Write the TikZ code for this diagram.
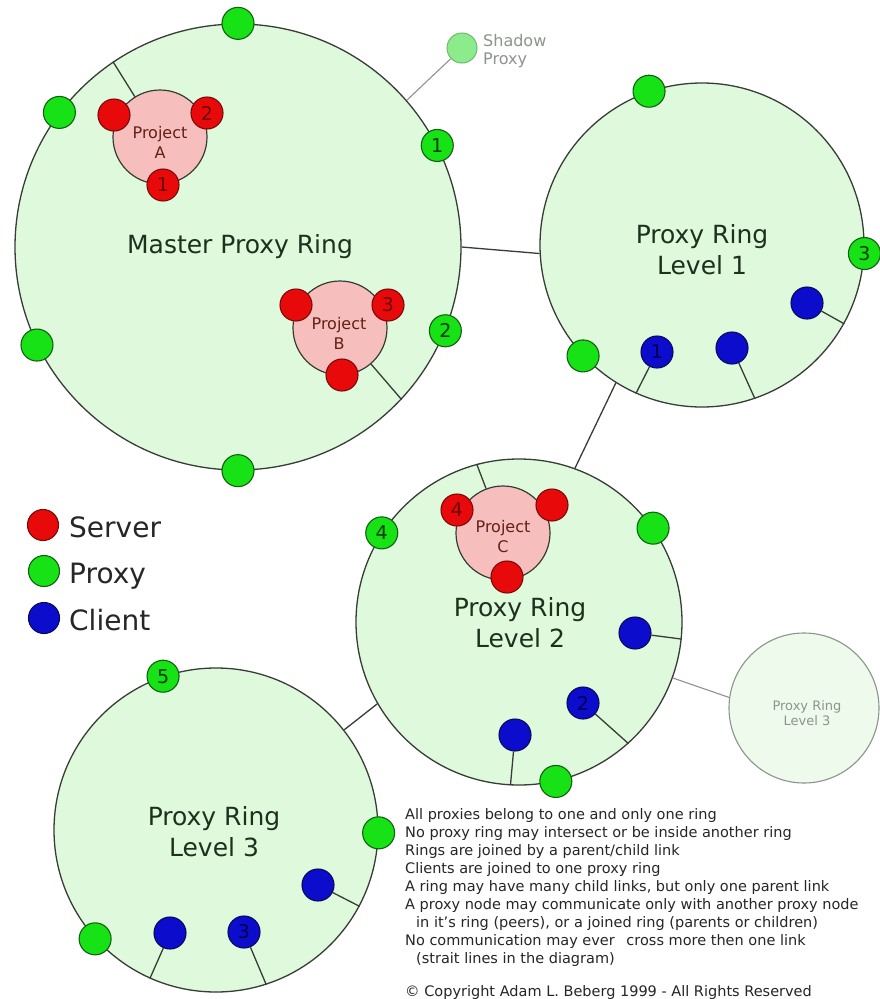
\documentclass[tikz,border=0pt]{standalone}
\usepackage{fontspec}
\setmainfont{DejaVu Sans}
\definecolor{ringfill}{RGB}{222,249,219}
\definecolor{ringline}{RGB}{55,60,55}
\definecolor{ghostfill}{RGB}{238,250,236}
\definecolor{ghostline}{RGB}{140,148,140}
\definecolor{proxyfill}{RGB}{22,226,22}
\definecolor{proxyline}{RGB}{20,95,20}
\definecolor{proxytext}{RGB}{0,60,0}
\definecolor{serverfill}{RGB}{232,10,10}
\definecolor{serverline}{RGB}{120,10,10}
\definecolor{servertext}{RGB}{110,0,0}
\definecolor{clientfill}{RGB}{12,12,205}
\definecolor{clientline}{RGB}{10,10,90}
\definecolor{clienttext}{RGB}{0,0,80}
\definecolor{projfill}{RGB}{247,190,190}
\definecolor{labeltext}{RGB}{30,48,30}
\definecolor{shadowfill}{RGB}{140,236,140}
\definecolor{shadowline}{RGB}{110,185,110}
\begin{document}
\begin{tikzpicture}[x=1pt,y=-1pt,
  ring/.style={circle, draw=ringline, fill=ringfill, line width=1.3pt, inner sep=0pt, minimum size=#1},
  ghostring/.style={circle, draw=ghostline, fill=ghostfill, line width=1.1pt, inner sep=0pt, minimum size=#1},
  proxy/.style={circle, draw=proxyline, fill=proxyfill, line width=1.1pt, inner sep=0pt, minimum size=32pt, text=proxytext, font=\fontsize{19}{19}\selectfont},
  server/.style={circle, draw=serverline, fill=serverfill, line width=1.1pt, inner sep=0pt, minimum size=32pt, text=servertext, font=\fontsize{19}{19}\selectfont},
  client/.style={circle, draw=clientline, fill=clientfill, line width=1.1pt, inner sep=0pt, minimum size=32pt, text=clienttext, font=\fontsize{19}{19}\selectfont},
  project/.style={circle, draw=ringline, fill=projfill, line width=1.2pt, inner sep=0pt, minimum size=94pt},
  projlabel/.style={align=center, text=labeltext!70!red, font=\fontsize{16}{20}\selectfont},
  ringlabel/.style={align=center, text=labeltext, font=\fontsize{25}{31}\selectfont},
  link/.style={draw=ringline, line width=1.3pt},
  ghostlink/.style={draw=ghostline, line width=1.1pt},
  legendtext/.style={anchor=base west, inner sep=0pt, text=black!85, font=\fontsize{28}{28}\selectfont},
  notes/.style={anchor=base west, inner sep=0pt, align=left, text=black!85, font=\fontsize{14.5}{17.9}\selectfont}
]
\useasboundingbox[fill=white] (0,0) rectangle (879,999);

% rings
\node[ring=446pt] (master) at (238,247) {};
\node[ring=324pt] (L1) at (702,245) {};
\node[ring=326pt] (L2) at (519,622) {};
\node[ring=324pt] (L3) at (216,830) {};
\node[ghostring=150pt] (ghost) at (804,708) {};

% ring labels
\node[ringlabel] (masterlbl) at (240,247) {Master Proxy Ring};
\node[ringlabel] (L1lbl) at (702,250) {Proxy Ring\\Level 1};
\node[ringlabel] (L2lbl) at (520,623) {Proxy Ring\\Level 2};
\node[ringlabel] (L3lbl) at (214,832) {Proxy Ring\\Level 3};
\node[align=center, text=ghostline, font=\fontsize{13}{15}\selectfont] (ghostlbl) at (807,713) {Proxy Ring\\Level 3};

% parent/child links between rings
\draw[link] (master.-0.3) -- (L1.183);
\draw[link] (L1.238) -- (L2.70.6);
\draw[link] (L2.210) -- (L3.38.6);
\draw[ghostlink] (L2.-20) -- (ghost.172);

% shadow proxy
\node[circle, draw=shadowline, fill=shadowfill, line width=1pt, minimum size=30pt, inner sep=0pt] (shadow) at (462,48) {};
\draw[ghostlink] (master.41.7) -- (shadow);
\node[anchor=base west, inner sep=0pt, align=left, text=ghostline, font=\fontsize{16}{18}\selectfont] (shadowlbl) at (483,64) {Shadow\\Proxy};

% projects with their servers
\node[project] (pA) at (160,137) {};
\node[projlabel] (pAlbl) at (160,142) {Project\\A};
\draw[link] (master.124) -- (pA);
\node[server] (sA1) at (114,115) {};
\node[server] (sA2) at (207,113) {2};
\node[server] (sA3) at (163,185) {1};

\node[project] (pB) at (340,328) {};
\node[projlabel] (pBlbl) at (339,333) {Project\\B};
\draw[link] (master.-43) -- (pB);
\node[server] (sB1) at (296,305) {};
\node[server] (sB2) at (388,305) {3};
\node[server] (sB3) at (342,375) {};

\node[project] (pC) at (503,533) {};
\node[projlabel] (pClbl) at (503,537) {Project\\C};
\draw[link] (L2.105) -- (pC);
\node[server] (sC1) at (457,510) {4};
\node[server] (sC2) at (552,505) {};
\node[server] (sC3) at (507,577) {};

% proxies on the master ring
\node[proxy] (m1) at (master.90) {};
\node[proxy] (m2) at (master.143) {};
\node[proxy] (m3) at (master.27) {1};
\node[proxy] (m4) at (master.-22) {2};
\node[proxy] (m5) at (master.206) {};
\node[proxy] (m6) at (master.270) {};

% level 1 ring
\node[proxy] (a1) at (L1.109.6) {};
\node[proxy] (a2) at (L1.-3.6) {3};
\node[proxy] (a3) at (L1.223.3) {};
\node[client] (ac1) at (807,303) {};
\node[client] (ac2) at (657,352) {1};
\node[client] (ac3) at (732,348) {};
\draw[link] (ac1) -- (L1.-29.8);
\draw[link] (ac2) -- (L1.246.6);
\draw[link] (ac3) -- (L1.289.3);

% level 2 ring
\node[proxy] (b1) at (L2.147.4) {4};
\node[proxy] (b2) at (L2.35.5) {};
\node[proxy] (b3) at (L2.283.7) {};
\node[client] (bc1) at (635,633) {};
\node[client] (bc2) at (583,703) {2};
\node[client] (bc3) at (515,735) {};
\draw[link] (bc1) -- (L2.-6.3);
\draw[link] (bc2) -- (L2.-48.2);
\draw[link] (bc3) -- (L2.267.9);

% level 3 ring
\node[proxy] (c1) at (L3.109.6) {5};
\node[proxy] (c2) at (L3.-1.8) {};
\node[proxy] (c3) at (L3.222.8) {};
\node[client] (cc1) at (318,885) {};
\node[client] (cc2) at (170,933) {};
\node[client] (cc3) at (244,932) {3};
\draw[link] (cc1) -- (L3.-28.8);
\draw[link] (cc2) -- (L3.246.3);
\draw[link] (cc3) -- (L3.288.8);

% legend
\node[server, minimum size=31pt] (legS) at (43,525) {};
\node[proxy, minimum size=31pt] (legP) at (44,571) {};
\node[client, minimum size=31pt] (legC) at (44,618) {};
\node[legendtext] (legStxt) at (69,537) {Server};
\node[legendtext] (legPtxt) at (69,583) {Proxy};
\node[legendtext] (legCtxt) at (69,630) {Client};

% rules (anchored at the baseline of the last line)
\node[notes] (rules) at (405,963) {All proxies belong to one and only one ring\\
No proxy ring may intersect or be inside another ring\\
Rings are joined by a parent/child link\\
Clients are joined to one proxy ring\\
A ring may have many child links, but only one parent link\\
A proxy node may communicate only with another proxy node\\
\hspace*{11pt}in it's ring (peers), or a joined ring (parents or children)\\
No communication may ever\hspace*{0.8em}cross more then one link\\
\hspace*{11pt}(strait lines in the diagram)};
\node[notes] (copy) at (405,996) {© Copyright Adam L. Beberg 1999 - All Rights Reserved};
\end{tikzpicture}
\end{document}
